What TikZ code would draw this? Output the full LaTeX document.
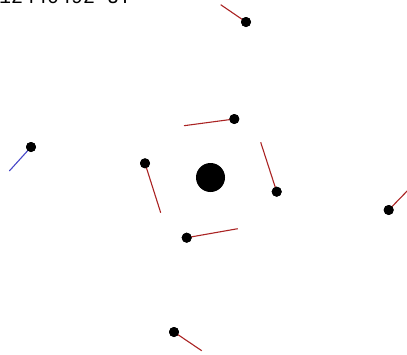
\documentclass[tikz,border=0pt]{standalone}
\usepackage{fontspec}
\newfontfamily\monofont{Liberation Mono}
\definecolor{trail}{RGB}{170,35,35}
\definecolor{bluetrail}{RGB}{70,70,200}
\tikzset{
  moon/.style={circle,fill=black,inner sep=0pt,minimum size=10pt},
  planet/.style={circle,fill=black,inner sep=0pt,minimum size=29pt},
  trailline/.style={draw=trail,line width=1.1pt},
  bluetrailline/.style={draw=bluetrail,line width=1.1pt},
}
\begin{document}
\begin{tikzpicture}[x=1pt,y=-1pt]
\useasboundingbox (0,0) rectangle (407,354);
\clip (0,0) rectangle (407,354);
\node[anchor=base west,inner sep=0pt,font=\monofont\fontsize{20}{20}\selectfont] (lbl) at (-1,3) {12440492 UT};
\node[planet] (p) at (210.5,177.5) {};
% moons
\node[moon] (m1) at (246,22) {};
\coordinate (t1) at (220.7,4.7);
\node[moon] (m2) at (31,147) {};
\coordinate (t2) at (9.3,171);
\node[moon] (m3) at (234.3,119) {};
\coordinate (t3) at (184,125.7);
\node[moon] (m4) at (145,163.3) {};
\coordinate (t4) at (160.7,212.7);
\node[moon] (m5) at (276.7,191.7) {};
\coordinate (t5) at (260.7,142.3);
\node[moon] (m6) at (186.7,237.7) {};
\coordinate (t6) at (237.7,228.7);
\node[moon] (m7) at (388.7,210) {};
\coordinate (t7) at (412,186) {};
\node[moon] (m8) at (174,332) {};
\coordinate (t8) at (201.7,350.7);
\begin{scope}[on background layer/.style={}]
\draw[trailline] (t1) -- (m1.center);
\draw[bluetrailline] (t2) -- (m2.center);
\draw[trailline] (t3) -- (m3.center);
\draw[trailline] (t4) -- (m4.center);
\draw[trailline] (t5) -- (m5.center);
\draw[trailline] (t6) -- (m6.center);
\draw[trailline] (t7) -- (m7.center);
\draw[trailline] (t8) -- (m8.center);
\end{scope}
% redraw moons on top
\foreach \m in {m1,m2,m3,m4,m5,m6,m7,m8} {\fill (\m) circle (5pt);}
\end{tikzpicture}
\end{document}
